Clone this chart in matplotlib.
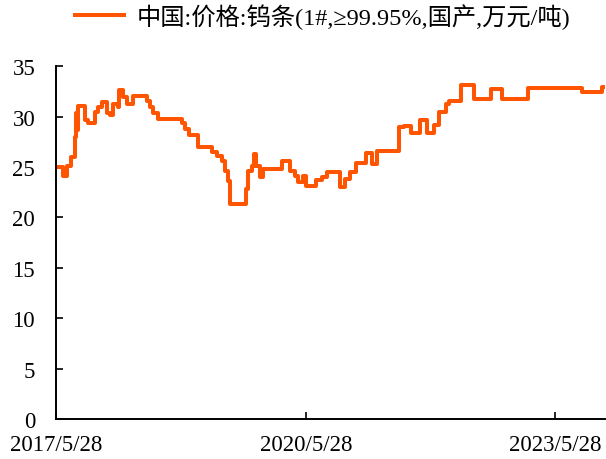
import matplotlib
matplotlib.use("Agg")
import matplotlib.pyplot as plt
import pandas as pd

# breakpoints of the price series (万元/吨)
dates = ["2017-05-28", "2017-06-28", "2017-07-15", "2017-08-02", "2017-08-19",
         "2017-08-24", "2017-08-28", "2017-09-01", "2017-10-02", "2017-10-15",
         "2017-11-15", "2017-11-28", "2017-12-16", "2018-01-07", "2018-01-20",
         "2018-02-02", "2018-02-24", "2018-03-01", "2018-03-18", "2018-04-04",
         "2018-04-30", "2018-07-01", "2018-07-14", "2018-07-27", "2018-08-18",
         "2018-12-01", "2018-12-14", "2019-01-01", "2019-02-09", "2019-04-12",
         "2019-05-04", "2019-05-26", "2019-06-08", "2019-06-21", "2019-06-30",
         "2019-09-08", "2019-09-17", "2019-10-04", "2019-10-12", "2019-10-24",
         "2019-11-08", "2019-11-21", "2020-02-12", "2020-03-18", "2020-04-09",
         "2020-04-26", "2020-05-14", "2020-05-31", "2020-07-14", "2020-08-05",
         "2020-08-31", "2020-10-27", "2020-11-14", "2020-12-06", "2021-01-05",
         "2021-02-18", "2021-03-16", "2021-04-07", "2021-07-13", "2021-08-04",
         "2021-09-03", "2021-10-13", "2021-11-12", "2021-12-13", "2022-01-04",
         "2022-02-04", "2022-02-17", "2022-04-10", "2022-06-06", "2022-08-20",
         "2022-10-07", "2023-01-29", "2023-09-23", "2023-12-19", "2023-12-28"]
prices = [25.0, 24.1, 25.1, 26.0, 28.0,
          30.4, 28.7, 31.0, 29.7, 29.4,
          30.5, 30.9, 31.4, 30.4, 30.2,
          31.2, 30.9, 32.6, 31.9, 31.2,
          32.0, 31.5, 30.9, 30.4, 29.8,
          29.4, 28.8, 28.2, 27.0, 26.5,
          26.1, 25.6, 24.6, 23.6, 21.3,
          22.8, 24.6, 25.1, 26.3, 25.1,
          24.0, 24.8, 25.6, 24.6, 24.1,
          23.5, 24.1, 23.1, 23.7, 24.0,
          24.5, 23.0, 23.8, 24.5, 25.4,
          26.4, 25.3, 26.6, 29.0, 29.1,
          28.4, 29.7, 28.4, 29.2, 30.5,
          31.2, 31.5, 33.1, 31.7, 32.7,
          31.7, 32.8, 32.4, 32.9, 32.9]
series_name = "中国:价格:钨条(1#,≥99.95%,国产,万元/吨)"
xtick_dates = ["2017-05-28", "2020-05-28", "2023-05-28"]
xtick_labels = ["2017/5/28", "2020/5/28", "2023/5/28"]
yticks = [0, 5, 10, 15, 20, 25, 30, 35]

plt.rcParams["font.family"] = ["Liberation Serif", "Noto Sans CJK SC", "DejaVu Sans"]

x = pd.to_datetime(dates)

fig = plt.figure(figsize=(6.06, 4.6), dpi=100)
ax = fig.add_axes([0.0924, 0.087, 0.906, 0.767])

ax.plot(x, prices, drawstyle="steps-post", color="#FF5500", lw=2.9,
        label=series_name)

ax.set_xlim(pd.Timestamp("2017-05-28"), pd.Timestamp("2024-01-01"))
ax.set_ylim(0, 35)
ax.set_yticks(yticks)
ax.set_xticks(pd.to_datetime(xtick_dates))
ax.set_xticklabels(xtick_labels)

for s in ["top", "right"]:
    ax.spines[s].set_visible(False)
for s in ["left", "bottom"]:
    ax.spines[s].set_linewidth(1.4)
    ax.spines[s].set_color("black")

ax.tick_params(axis="y", direction="in", length=5, width=1.2, labelsize=16.5, pad=15)
ax.tick_params(axis="x", direction="in", length=5, width=1.2, labelsize=16.5, pad=11)

fig.legend(loc="center", bbox_to_anchor=(0.532, 0.963), frameon=False,
           fontsize=17.5, handlelength=2.05, handletextpad=0.5)

fig.savefig("out.png", dpi=100)
